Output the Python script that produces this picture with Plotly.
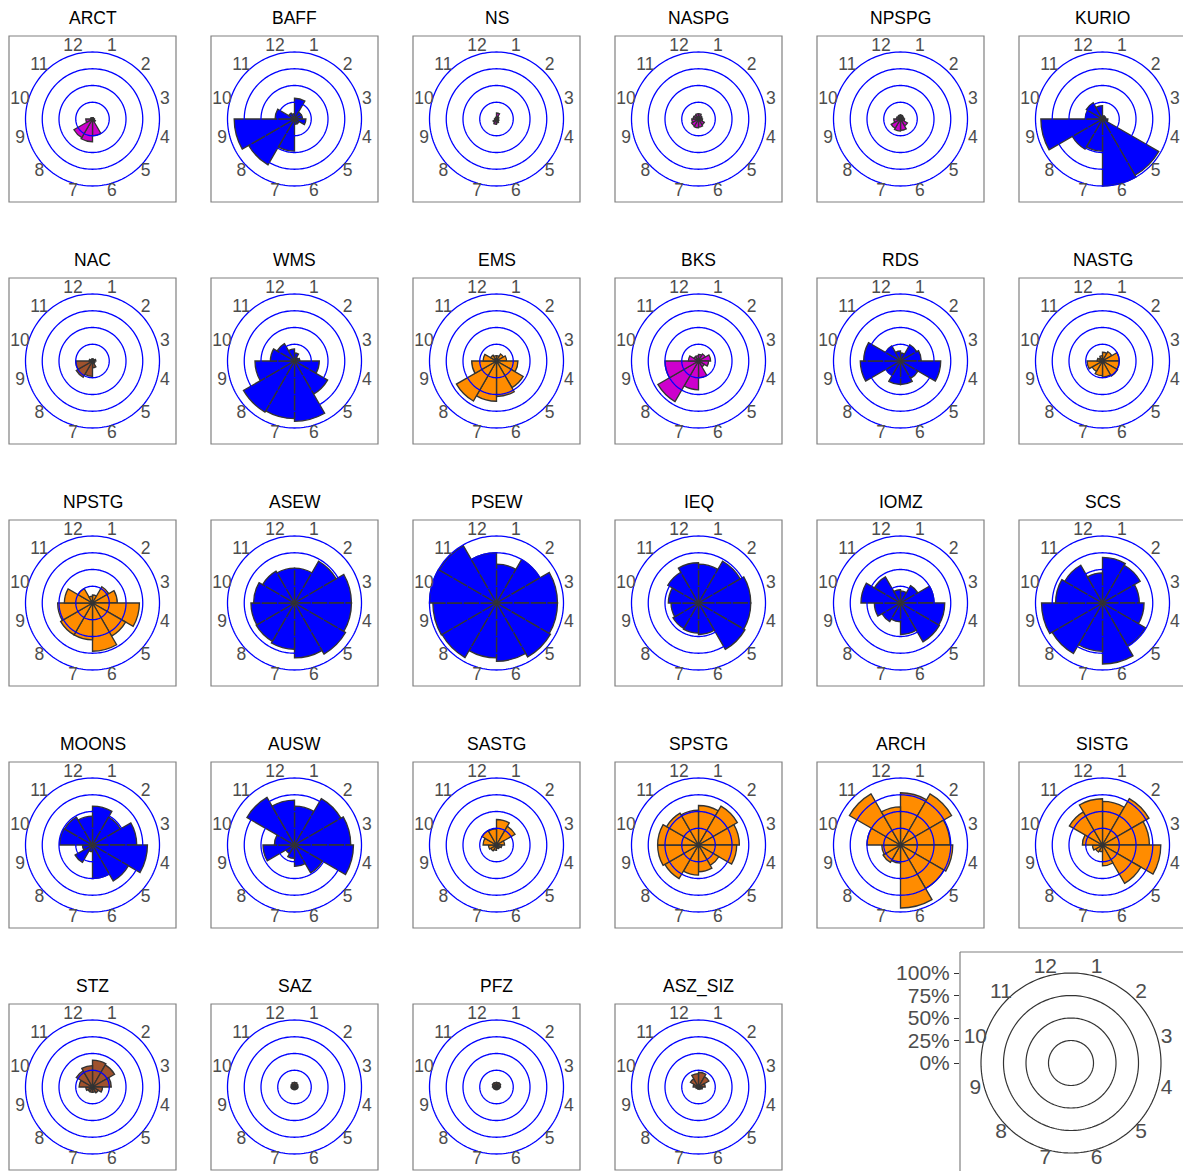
import plotly.graph_objects as go
import numpy as np

W, H = 1183, 1171

months = ["1", "2", "3", "4", "5", "6", "7", "8", "9", "10", "11", "12"]
month_theta = [15, 45, 75, 105, 135, 165, 195, 225, 255, 285, 315, 345]
ring_levels = [25, 50, 75, 100]
legend_ticks = [0, 25, 50, 75, 100]
legend_ticktext = ["0%", "25%", "50%", "75%", "100%"]

BLUE = "#0000FF"
MAG = "#CD00CD"
ORA = "#FF8C00"
BRN = "#A0522D"

# --- region names, colours and monthly values (percent of max) ---
ARCT = [2, 2, 2, 3, 5, 25, 34, 32, 10, 3, 2, 2]
BAFF = [31, 12, 12, 17, 8, 8, 48, 79, 90, 29, 10, 8]
NS = [9, 4, 3, 3, 4, 6, 8, 6, 3, 2, 2, 3]
NASPG = [8, 6, 5, 6, 10, 12, 13, 12, 10, 8, 7, 8]
NPSPG = [6, 5, 5, 6, 12, 17, 18, 16, 10, 6, 5, 6]
KURIO = [5, 5, 5, 8, 97, 100, 48, 52, 92, 26, 28, 20]
NAC = [3, 3, 5, 3, 4, 10, 23, 28, 25, 5, 3, 3]
WMS = [12, 6, 8, 37, 57, 90, 86, 88, 59, 36, 30, 18]
EMS = [8, 12, 15, 32, 46, 53, 60, 69, 37, 20, 10, 8]
BKS = [10, 12, 18, 15, 10, 25, 43, 70, 50, 15, 8, 8]
RDS = [12, 28, 31, 60, 30, 35, 35, 25, 60, 55, 26, 15]
NASTG = [13, 16, 25, 25, 26, 24, 22, 18, 23, 8, 6, 8]
NPSTG = [12, 28, 37, 70, 57, 72, 55, 55, 52, 42, 25, 10]
ASEW = [52, 72, 85, 85, 88, 82, 69, 66, 65, 61, 55, 52]
PSEW = [58, 75, 91, 91, 93, 87, 82, 94, 95, 100, 99, 75]
IEQ = [58, 72, 78, 78, 80, 47, 45, 44, 41, 45, 53, 60]
IOMZ = [18, 30, 50, 66, 67, 47, 28, 32, 39, 59, 45, 20]
SCS = [68, 65, 55, 62, 74, 91, 72, 87, 91, 70, 65, 45]
MOONS = [58, 48, 66, 82, 62, 50, 10, 30, 15, 49, 48, 43]
AUSW = [58, 80, 84, 88, 48, 32, 20, 15, 47, 30, 82, 67]
SASTG = [38, 32, 12, 8, 6, 5, 8, 10, 12, 20, 25, 24]
SPSTG = [59, 67, 61, 57, 35, 40, 45, 58, 61, 61, 55, 52]
ARCH = [78, 88, 74, 78, 75, 94, 27, 30, 28, 50, 88, 57]
SISTG = [65, 80, 70, 87, 66, 31, 10, 12, 15, 30, 57, 69]
STZ = [40, 38, 28, 15, 10, 8, 8, 8, 10, 20, 28, 32]
SAZ = [7, 6, 5, 5, 4, 4, 4, 4, 5, 5, 6, 7]
PFZ = [7, 7, 6, 5, 4, 4, 4, 4, 5, 6, 7, 7]
ASZ_SIZ = [22, 18, 10, 6, 4, 3, 3, 3, 4, 8, 14, 20]

region_names = ["ARCT", "BAFF", "NS", "NASPG", "NPSPG", "KURIO",
                "NAC", "WMS", "EMS", "BKS", "RDS", "NASTG",
                "NPSTG", "ASEW", "PSEW", "IEQ", "IOMZ", "SCS",
                "MOONS", "AUSW", "SASTG", "SPSTG", "ARCH", "SISTG",
                "STZ", "SAZ", "PFZ", "ASZ_SIZ"]
region_values = [ARCT, BAFF, NS, NASPG, NPSPG, KURIO,
                 NAC, WMS, EMS, BKS, RDS, NASTG,
                 NPSTG, ASEW, PSEW, IEQ, IOMZ, SCS,
                 MOONS, AUSW, SASTG, SPSTG, ARCH, SISTG,
                 STZ, SAZ, PFZ, ASZ_SIZ]
region_colors = [MAG, BLUE, MAG, MAG, MAG, BLUE,
                 BRN, BLUE, ORA, MAG, BLUE, ORA,
                 ORA, BLUE, BLUE, BLUE, BLUE, BLUE,
                 BLUE, BLUE, ORA, ORA, ORA, ORA,
                 BRN, BRN, BRN, BRN]

FONT = "Liberation Sans, Arial, sans-serif"
LABEL_R = 112          # month labels sit just outside the 100% ring
R_MAX = 113            # radial range end (keeps labels inside the subplot)
LEGEND_LABEL_R = 110
LEGEND_R_MAX = 111

fig = go.Figure()
layout = {}
shapes = []
annotations = []

R100_PX = 67       # pixel radius of the 100% ring in each panel
COL0, COLSTEP = 92.5, 202
ROW0, ROWSTEP = 119, 242
circle_theta = np.linspace(0, 360, 181)


def px_x(x):
    return x / W


def px_y(y):
    return 1 - y / H


angular_axis = dict(rotation=90, direction="clockwise",
                    tickmode="array", tickvals=month_theta,
                    showticklabels=False, showgrid=False, showline=False, ticks="")

for i, (name, vals, col) in enumerate(zip(region_names, region_values, region_colors)):
    r_i, c_i = divmod(i, 6)
    cx = COL0 + COLSTEP * c_i
    cy = ROW0 + ROWSTEP * r_i
    pid = "polar" if i == 0 else f"polar{i+1}"
    dom_r = R100_PX * R_MAX / 100
    fig.add_trace(go.Barpolar(
        r=vals, theta=month_theta, width=[30] * 12,
        marker=dict(color=col, line=dict(color="#333333", width=1.35)),
        subplot=pid, showlegend=False, hoverinfo="skip"))
    for lv in ring_levels:
        fig.add_trace(go.Scatterpolar(
            r=[lv] * len(circle_theta), theta=circle_theta, mode="lines",
            line=dict(color=BLUE, width=1.3), subplot=pid,
            showlegend=False, hoverinfo="skip"))
    fig.add_trace(go.Scatterpolar(
        r=[LABEL_R] * 12, theta=month_theta, text=months, mode="text",
        textfont=dict(size=17.5, color="#4d4d4d", family=FONT),
        cliponaxis=False, subplot=pid, showlegend=False, hoverinfo="skip"))
    layout[pid] = dict(
        domain=dict(x=[px_x(cx - dom_r), px_x(cx + dom_r)],
                    y=[px_y(cy + dom_r), px_y(cy - dom_r)]),
        bgcolor="rgba(0,0,0,0)",
        angularaxis=angular_axis,
        radialaxis=dict(range=[0, R_MAX], showticklabels=False, showline=False,
                        showgrid=False, ticks=""),
    )
    shapes.append(dict(type="rect", xref="paper", yref="paper",
                       x0=px_x(cx - 83.5), x1=px_x(cx + 83.5),
                       y0=px_y(cy + 83), y1=px_y(cy - 83),
                       line=dict(color="#808080", width=1.2), fillcolor="rgba(0,0,0,0)",
                       layer="below"))
    annotations.append(dict(text=name, x=px_x(cx), y=px_y(cy - 101),
                            xref="paper", yref="paper", showarrow=False,
                            xanchor="center", yanchor="middle",
                            font=dict(size=17.5, color="black", family=FONT)))

# --- legend / key panel ---
LCX, LCY, LR = 1071, 1063, 90
lid = f"polar{len(region_names)+1}"
ldom_r = LR * LEGEND_R_MAX / 100
for lv in ring_levels:
    fig.add_trace(go.Scatterpolar(
        r=[lv] * len(circle_theta), theta=circle_theta, mode="lines",
        line=dict(color="#333333", width=1.2), subplot=lid,
        showlegend=False, hoverinfo="skip"))
fig.add_trace(go.Scatterpolar(
    r=[LEGEND_LABEL_R] * 12, theta=month_theta, text=months, mode="text",
    textfont=dict(size=21, color="#4d4d4d", family=FONT),
    cliponaxis=False, subplot=lid, showlegend=False, hoverinfo="skip"))
layout[lid] = dict(
    domain=dict(x=[px_x(LCX - ldom_r), px_x(LCX + ldom_r)],
                y=[px_y(LCY + ldom_r), px_y(LCY - ldom_r)]),
    bgcolor="rgba(0,0,0,0)",
    angularaxis=angular_axis,
    radialaxis=dict(range=[0, LEGEND_R_MAX], showticklabels=False, showline=False,
                    showgrid=False, ticks=""),
)
fig.add_trace(go.Scatter(x=[0], y=[0], mode="markers", marker=dict(size=0, opacity=0),
                         showlegend=False, hoverinfo="skip"))
layout["xaxis"] = dict(domain=[px_x(960), 1], range=[0, 1], visible=False,
                       fixedrange=True, automargin=False)
layout["yaxis"] = dict(domain=[px_y(LCY), px_y(LCY - LR)], range=[0, 100],
                       tickmode="array", tickvals=legend_ticks, ticktext=legend_ticktext,
                       ticks="outside", ticklen=5, tickcolor="#333333",
                       tickfont=dict(size=21, color="#4d4d4d", family=FONT),
                       showgrid=False, zeroline=False, showline=False, anchor="x",
                       automargin=False, fixedrange=True)
shapes.append(dict(type="line", xref="paper", yref="paper",
                   x0=px_x(960), x1=px_x(960), y0=px_y(952), y1=px_y(1171),
                   line=dict(color="#808080", width=1.2)))
shapes.append(dict(type="line", xref="paper", yref="paper",
                   x0=px_x(960), x1=1, y0=px_y(952), y1=px_y(952),
                   line=dict(color="#808080", width=1.2)))

fig.update_layout(
    width=W, height=H,
    margin=dict(l=0, r=0, t=0, b=0, pad=0, autoexpand=False),
    paper_bgcolor="white", plot_bgcolor="white",
    shapes=shapes, annotations=annotations, showlegend=False,
    **layout)

fig.write_html("out.html", config={"displayModeBar": False, "staticPlot": True},
               post_script="document.body.style.margin='0';document.body.style.overflow='hidden';")
